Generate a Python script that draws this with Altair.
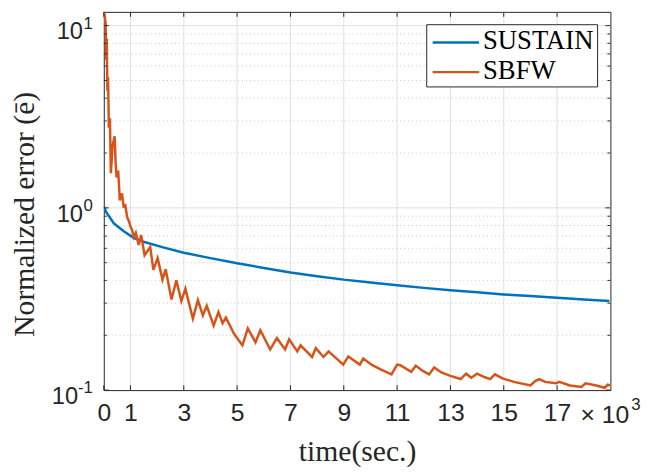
import altair as alt
import pandas as pd

# ---- data ----
sustain_t = [0, 85, 196, 384, 750, 1120, 1490, 2230, 3000, 4000, 5000, 6000, 7000, 8000,
             9000, 10000, 11000, 12000, 13000, 14000, 15000, 16000, 17000, 18000, 18960]
sustain_v = [1.02, 0.95, 0.90, 0.82, 0.745, 0.685, 0.652, 0.607, 0.567, 0.53, 0.497, 0.468,
             0.442, 0.422, 0.404, 0.39, 0.376, 0.364, 0.353, 0.344, 0.335, 0.328, 0.321,
             0.314, 0.308]

sbfw_t = [0, 40, 70, 90, 110, 135, 160, 190, 230, 265, 330, 407, 445, 480, 540, 600, 680,
          750, 800, 875, 950, 1000, 1060, 1120, 1200, 1310, 1400, 1530, 1740, 1860, 2020,
          2200, 2320, 2540, 2720, 2910, 3060, 3340, 3530, 3715, 3860, 4120, 4300, 4455,
          4580, 4890, 5200, 5400, 5690, 5870, 6240, 6490, 6800, 6950, 7260, 7380, 7810,
          7950, 8240, 8430, 8980, 9170, 9600, 9730, 10070, 10380, 10790, 11000, 11120,
          11530, 11700, 11980, 12200, 12390, 12660, 12970, 13380, 13590, 13780, 14000,
          14270, 14490, 14670, 14950, 15380, 16000, 16180, 16330, 16550, 16960, 17080,
          17480, 17910, 18070, 18470, 18780, 18900, 18980]
sbfw_v = [12.5, 11.0, 10.3, 6.5, 8.5, 4.4, 5.2, 2.75, 3.1, 1.55, 2.2, 2.47, 1.75, 1.47, 1.6,
          1.1, 1.2, 1.0, 1.05, 0.89, 0.84, 0.79, 0.76, 0.69, 0.73, 0.625, 0.71, 0.55, 0.61,
          0.457, 0.53, 0.404, 0.46, 0.314, 0.40, 0.308, 0.36, 0.247, 0.312, 0.257, 0.29,
          0.226, 0.268, 0.233, 0.25, 0.203, 0.176, 0.218, 0.183, 0.213, 0.167, 0.193, 0.167,
          0.19, 0.163, 0.176, 0.152, 0.17, 0.152, 0.163, 0.138, 0.153, 0.138, 0.149, 0.137,
          0.13, 0.122, 0.138, 0.137, 0.126, 0.136, 0.127, 0.122, 0.133, 0.125, 0.12, 0.115,
          0.123, 0.117, 0.123, 0.118, 0.115, 0.122, 0.116, 0.111, 0.106, 0.112, 0.115, 0.111,
          0.109, 0.111, 0.106, 0.104, 0.109, 0.106, 0.103, 0.107, 0.106]

series_names = ["SUSTAIN", "SBFW"]
series_colors = ["#0072BD", "#D95319"]

x_ticks = [0, 1000, 3000, 5000, 7000, 9000, 11000, 13000, 15000, 17000]
x_grid = [1000, 3000, 5000, 7000, 9000, 11000, 13000, 15000, 17000]
y_major = [0.1, 1, 10]
y_major_grid = [1, 10]
y_minor = [0.2, 0.3, 0.4, 0.5, 0.6, 0.7, 0.8, 0.9, 2, 3, 4, 5, 6, 7, 8, 9]
y_exp_a = ["1", "0"]
y_exp_b = ["-1"]

W, H = 513, 383
TXT = "#262626"

df = pd.concat([
    pd.DataFrame({"t": sustain_t, "v": sustain_v, "series": series_names[0]}),
    pd.DataFrame({"t": sbfw_t, "v": sbfw_v, "series": series_names[1]}),
])

xs = alt.Scale(domain=[0, 19000], nice=False, zero=False)
ys = alt.Scale(type="log", domain=[0.1, 11.9], nice=False)
cs = alt.Scale(domain=series_names, range=series_colors)

X_AX = alt.Axis(
    title="time(sec.)", values=x_ticks, labelExpr="datum.value / 1000",
    grid=False, ticks=False, domain=False, labelFlush=False, labelOverlap=False,
    labelFont="Liberation Sans", labelFontSize=25, labelColor=TXT, labelPadding=11,
    titleFont="Liberation Serif", titleFontSize=30, titleFontWeight="normal",
    titleColor=TXT, titlePadding=11)
Y_AX = alt.Axis(
    title="Normalized error (ē)", labels=False, ticks=False, domain=False, grid=False,
    titleFont="Liberation Serif", titleFontSize=30, titleFontWeight="normal",
    titleColor=TXT, titleX=-80, titleY=H / 2 + 13, titleAngle=270,
    titleAlign="center", titleBaseline="middle")


def X(f="t"):
    return alt.X(f"{f}:Q", scale=xs, axis=X_AX)


def Y(f="v"):
    return alt.Y(f"{f}:Q", scale=ys, axis=Y_AX)


vgrid = alt.Chart(pd.DataFrame({"t": x_grid})).mark_rule(color="#dfdfdf", strokeWidth=1).encode(
    x=X(), y=alt.value(0), y2=alt.value(H))
hgrid = alt.Chart(pd.DataFrame({"v": y_major_grid})).mark_rule(color="#dfdfdf", strokeWidth=1).encode(
    y=Y(), x=alt.value(0), x2=alt.value(W))
mgrid = alt.Chart(pd.DataFrame({"v": y_minor})).mark_rule(
    color="#c8c8c8", strokeWidth=1, strokeDash=[1, 3]).encode(
    y=Y(), x=alt.value(0), x2=alt.value(W))

lines = alt.Chart(df).mark_line(strokeWidth=2.5, clip=True).encode(
    x=X(), y=Y(),
    color=alt.Color("series:N", scale=cs, legend=None),
)

ytick_major_l = alt.Chart(pd.DataFrame({"v": y_major})).mark_rule(color=TXT).encode(
    y=Y(), x=alt.value(0), x2=alt.value(5))
ytick_major_r = alt.Chart(pd.DataFrame({"v": y_major})).mark_rule(color=TXT).encode(
    y=Y(), x=alt.value(W - 5), x2=alt.value(W))
ytick_minor_l = alt.Chart(pd.DataFrame({"v": y_minor})).mark_rule(color=TXT).encode(
    y=Y(), x=alt.value(0), x2=alt.value(3))
ytick_minor_r = alt.Chart(pd.DataFrame({"v": y_minor})).mark_rule(color=TXT).encode(
    y=Y(), x=alt.value(W - 3), x2=alt.value(W))
xtick_b = alt.Chart(pd.DataFrame({"t": x_ticks})).mark_rule(color=TXT).encode(
    x=X(), y=alt.value(H - 5), y2=alt.value(H))
xtick_t = alt.Chart(pd.DataFrame({"t": x_ticks})).mark_rule(color=TXT).encode(
    x=X(), y=alt.value(0), y2=alt.value(5))

lab_font = dict(font="Liberation Sans", color=TXT, baseline="alphabetic")
ylab_a = alt.Chart(pd.DataFrame({"v": [10, 1], "e": y_exp_a})).mark_text(
    text="10", fontSize=24, align="right", dy=14, **lab_font).encode(
    y=Y(), x=alt.value(-21))
yexp_a = alt.Chart(pd.DataFrame({"v": [10, 1], "e": y_exp_a})).mark_text(
    fontSize=17, align="right", dy=3, **lab_font).encode(
    y=Y(), x=alt.value(-11), text="e:N")
ylab_b = alt.Chart(pd.DataFrame({"v": [0.1], "e": y_exp_b})).mark_text(
    text="10", fontSize=24, align="right", dy=14, **lab_font).encode(
    y=Y(), x=alt.value(-26))
yexp_b = alt.Chart(pd.DataFrame({"v": [0.1], "e": y_exp_b})).mark_text(
    fontSize=17, align="right", dy=3, **lab_font).encode(
    y=Y(), x=alt.value(-11), text="e:N")

xmult = alt.Chart(pd.DataFrame({"s": ["× 10"]})).mark_text(
    fontSize=25, align="right", **lab_font).encode(
    x=alt.value(532), y=alt.value(H + 33), text="s:N")
xmult_exp = alt.Chart(pd.DataFrame({"s": ["3"]})).mark_text(
    fontSize=17, align="left", **lab_font).encode(
    x=alt.value(534), y=alt.value(H + 20), text="s:N")

# manual legend box (MATLAB style)
leg_box = alt.Chart(pd.DataFrame({"k": [0]})).mark_rect(
    fill="white", stroke=TXT, strokeWidth=1).encode(
    x=alt.value(327), x2=alt.value(500), y=alt.value(13), y2=alt.value(76))
leg_layers = []
for i, name in enumerate(series_names):
    ly = 31 + 30 * i
    d = pd.DataFrame({"series": [name]})
    leg_layers.append(alt.Chart(d).mark_rule(strokeWidth=2.5).encode(
        x=alt.value(333), x2=alt.value(380), y=alt.value(ly),
        color=alt.Color("series:N", scale=cs, legend=None)))
    leg_layers.append(alt.Chart(d).mark_text(
        font="Liberation Serif", fontSize=27, align="left", baseline="alphabetic",
        color="#000").encode(x=alt.value(384), y=alt.value(ly + 7), text="series:N"))

chart = alt.layer(
    vgrid, hgrid, mgrid, lines,
    ytick_major_l, ytick_major_r, ytick_minor_l, ytick_minor_r, xtick_b, xtick_t,
    ylab_a, yexp_a, ylab_b, yexp_b, xmult, xmult_exp, leg_box, *leg_layers,
).properties(
    width=W, height=H,
    autosize=alt.AutoSizeParams(type="none"),
    padding={"left": 97, "top": 1, "right": 34, "bottom": 80},
    background="white",
).configure_view(stroke=TXT, strokeWidth=1)

chart.save("out.html", embed_options={"renderer": "svg", "actions": False})
